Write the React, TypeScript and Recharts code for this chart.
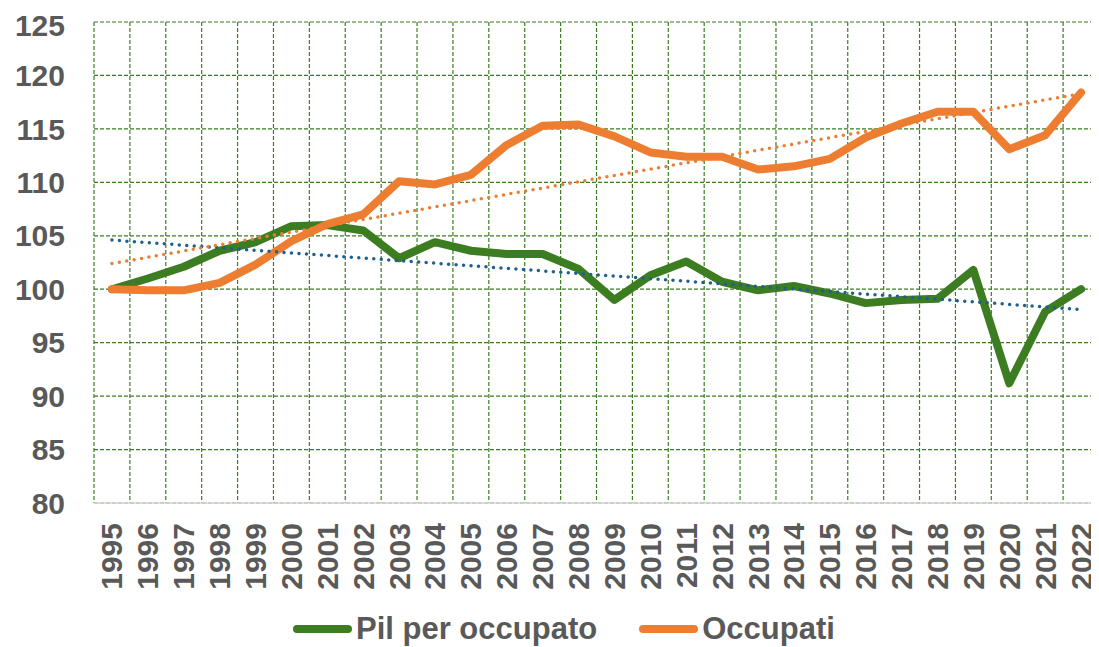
import { LineChart, Line, XAxis, YAxis, CartesianGrid, Legend } from 'recharts';

const years = [
  1995, 1996, 1997, 1998, 1999, 2000, 2001, 2002, 2003, 2004, 2005, 2006, 2007, 2008,
  2009, 2010, 2011, 2012, 2013, 2014, 2015, 2016, 2017, 2018, 2019, 2020, 2021, 2022,
];

const pilPerOccupato = [
  100, 101.0, 102.1, 103.6, 104.4, 105.9, 106.0, 105.5, 102.9, 104.4, 103.6, 103.3, 103.3, 101.9,
  99.0, 101.3, 102.6, 100.7, 99.9, 100.3, 99.6, 98.7, 99.0, 99.1, 101.8, 91.2, 97.9, 100.0,
];

const occupati = [
  100, 99.9, 99.9, 100.6, 102.3, 104.5, 106.1, 107.0, 110.1, 109.8, 110.7, 113.5, 115.3, 115.4,
  114.3, 112.8, 112.4, 112.4, 111.2, 111.5, 112.2, 114.2, 115.5, 116.6, 116.6, 113.1, 114.4, 118.4,
];

// linear trend lines (Excel "Tendenza lineare"), ends
const pilTrendEnds = [104.6, 98.1];
const occTrendEnds = [102.4, 118.3];

const yTicks = [80, 85, 90, 95, 100, 105, 110, 115, 120, 125];

const GREEN = '#3C7D22';
const ORANGE = '#ED7D31';
const BLUE = '#1F5F8E';
const GRID = '#3A7D22';
const TEXT = '#595959';
const FONT = '"Liberation Sans", Arial, sans-serif';

const data = years.map((year, i) => ({
  year,
  pil: pilPerOccupato[i],
  occ: occupati[i],
  pilTrend: i === 0 ? pilTrendEnds[0] : i === years.length - 1 ? pilTrendEnds[1] : null,
  occTrend: i === 0 ? occTrendEnds[0] : i === years.length - 1 ? occTrendEnds[1] : null,
}));

const legendItems = [
  { name: 'Pil per occupato', color: GREEN },
  { name: 'Occupati', color: ORANGE },
];

const XTick = (props: any) => {
  const { x, y, payload } = props;
  return (
    <text
      x={x}
      y={y}
      transform={`rotate(-90, ${x}, ${y})`}
      textAnchor="end"
      dominantBaseline="central"
      fill={TEXT}
      fontSize={30}
      fontWeight="bold"
      fontFamily={FONT}
    >
      {payload.value}
    </text>
  );
};

const renderLegend = () => (
  <div
    style={{
      display: 'flex',
      alignItems: 'center',
      height: 36,
      paddingLeft: 285,
      fontFamily: FONT,
      fontWeight: 'bold',
      fontSize: 31,
      color: TEXT,
    }}
  >
    {legendItems.map((item, i) => (
      <div key={item.name} style={{ display: 'flex', alignItems: 'center', marginLeft: i === 0 ? 0 : 42 }}>
        <span style={{ display: 'inline-block', width: 59, height: 8, borderRadius: 4, background: item.color, marginRight: 4 }} />
        <span>{item.name}</span>
      </div>
    ))}
  </div>
);

export default function App() {
  return (
    <LineChart width={1091} height={639} data={data} margin={{ top: 14, right: 0, left: 0, bottom: 0 }}>
      <CartesianGrid
        stroke={GRID}
        strokeDasharray="4 2"
        strokeWidth={1.2}
        verticalCoordinatesGenerator={({ offset }: any) =>
          Array.from({ length: years.length + 1 }, (_, i) => offset.left + (i * offset.width) / years.length)
        }
      />
      <XAxis
        dataKey="year"
        type="number"
        domain={[years[0] - 0.5, years[years.length - 1] + 0.5]}
        ticks={years}
        interval={0}
        height={108}
        tickLine={false}
        tickSize={0}
        tickMargin={20}
        axisLine={{ stroke: '#D9D9D9', strokeWidth: 1.5 }}
        tick={<XTick />}
      />
      <YAxis
        domain={[80, 125]}
        ticks={yTicks}
        width={86}
        axisLine={false}
        tickLine={false}
        tickSize={0}
        tickMargin={29}
        tick={{ fill: TEXT, fontSize: 30, fontWeight: 'bold', fontFamily: FONT }}
      />
      <Legend verticalAlign="bottom" content={renderLegend} />
      <Line
        dataKey="pil"
        name="Pil per occupato"
        stroke={GREEN}
        strokeWidth={8}
        strokeLinejoin="round"
        strokeLinecap="round"
        dot={false}
        isAnimationActive={false}
      />
      <Line
        dataKey="occ"
        name="Occupati"
        stroke={ORANGE}
        strokeWidth={8}
        strokeLinejoin="round"
        strokeLinecap="round"
        dot={false}
        isAnimationActive={false}
      />
      <Line
        dataKey="pilTrend"
        stroke={BLUE}
        strokeWidth={3.5}
        strokeDasharray="0 7.5"
        strokeLinecap="round"
        connectNulls
        dot={false}
        legendType="none"
        isAnimationActive={false}
      />
      <Line
        dataKey="occTrend"
        stroke={ORANGE}
        strokeWidth={3.5}
        strokeDasharray="0 7.5"
        strokeLinecap="round"
        connectNulls
        dot={false}
        legendType="none"
        isAnimationActive={false}
      />
    </LineChart>
  );
}
